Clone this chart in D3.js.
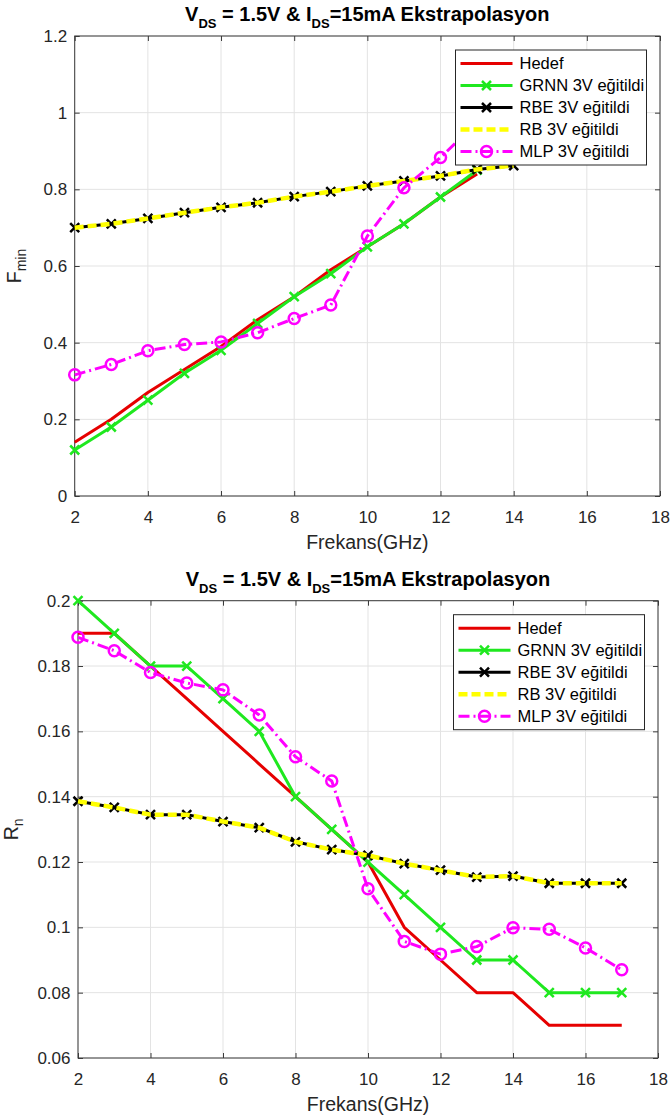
<!DOCTYPE html>
<html><head><meta charset="utf-8">
<script src="https://cdn.jsdelivr.net/npm/d3@7"></script>
<style>
body{margin:0;background:#fff}
svg{display:block}
text{font-family:Arial,"Liberation Sans",Helvetica,sans-serif}
</style>
</head><body>
<svg id="c" width="671" height="1119"></svg>
<script>
// ---------- DATA ----------
const freq = [2,3,4,5,6,7,8,9,10,11,12,13,14,15,16,17];
const xTicks = [2,4,6,8,10,12,14,16,18];
const xTickLabels = ["2","4","6","8","10","12","14","16","18"];
const seriesNames = ["Hedef","GRNN 3V eğitildi","RBE 3V eğitildi","RB 3V eğitildi","MLP 3V eğitildi"];

// Top panel: Fmin (points hidden behind the legend are not shown)
const fminHedef = [0.14,0.20,0.27,0.33,0.39,0.46,0.52,0.59,0.65,0.71,0.78,0.84];
const fminGRNN  = [0.12,0.18,0.25,0.32,0.38,0.45,0.52,0.58,0.65,0.71,0.78,0.85];
const fminRBE   = [0.700,0.710,0.724,0.739,0.753,0.765,0.781,0.794,0.809,0.822,0.835,0.852,0.862];
const fminRB    = [0.700,0.710,0.724,0.739,0.753,0.765,0.781,0.794,0.809,0.822,0.835,0.852,0.862];
const fminMLP   = [0.316,0.343,0.379,0.395,0.402,0.426,0.463,0.498,0.678,0.804,0.883,0.975];
const fminTicks = [0,0.2,0.4,0.6,0.8,1,1.2];
const fminTickLabels = ["0","0.2","0.4","0.6","0.8","1","1.2"];

// Bottom panel: Rn
const rnHedef = [0.19,0.19,0.18,0.17,0.16,0.15,0.14,0.13,0.12,0.10,0.09,0.08,0.08,0.07,0.07,0.07];
const rnGRNN  = [0.20,0.19,0.18,0.18,0.17,0.16,0.14,0.13,0.12,0.11,0.10,0.09,0.09,0.08,0.08,0.08];
const rnRBE   = [0.1386,0.1367,0.1345,0.1345,0.1324,0.1305,0.1262,0.1238,0.1220,0.1195,0.1175,0.1154,0.1157,0.1135,0.1135,0.1135];
const rnRB    = [0.1386,0.1367,0.1345,0.1345,0.1324,0.1305,0.1262,0.1238,0.1220,0.1195,0.1175,0.1154,0.1157,0.1135,0.1135,0.1135];
const rnMLP   = [0.1888,0.1847,0.1780,0.1748,0.1727,0.1650,0.1522,0.1448,0.1118,0.0957,0.0918,0.0941,0.0999,0.0994,0.0937,0.0870];
const rnTicks = [0.06,0.08,0.1,0.12,0.14,0.16,0.18,0.2];
const rnTickLabels = ["0.06","0.08","0.1","0.12","0.14","0.16","0.18","0.2"];

// ---------- STYLES ----------
const styles = [
  {color:"#e60000", width:3, dash:null, marker:null},
  {color:"#1fe81f", width:3, dash:null, marker:"x"},
  {color:"#000000", width:3, dash:null, marker:"x"},
  {color:"#ffff00", width:4.5, dash:"9,4", marker:null},
  {color:"#ff00ff", width:3, dash:"11,4,2,4", marker:"o"}
];

const svg = d3.select("#c");
const tickFont = 17, labelFont = 19.5, titleFont = 20, legendFont = 16.5;

function panel(cfg){
  const g = svg.append("g");
  const x = d3.scaleLinear().domain([2,18]).range([cfg.left,cfg.right]);
  const y = d3.scaleLinear().domain(cfg.ydom).range([cfg.bottom,cfg.top]);

  // grid
  g.append("g").selectAll("line.gx").data(xTicks).join("line")
    .attr("x1",d=>x(d)).attr("x2",d=>x(d)).attr("y1",cfg.top).attr("y2",cfg.bottom)
    .attr("stroke","#e3e3e3").attr("stroke-width",1);
  g.append("g").selectAll("line.gy").data(cfg.yTicks).join("line")
    .attr("x1",cfg.left).attr("x2",cfg.right).attr("y1",d=>y(d)).attr("y2",d=>y(d))
    .attr("stroke","#e3e3e3").attr("stroke-width",1);

  // axes
  const ax = [
    g.append("g").attr("transform",`translate(0,${cfg.bottom})`)
      .call(d3.axisBottom(x).tickValues(xTicks).tickFormat((d,i)=>xTickLabels[i]).tickSizeInner(-5).tickSizeOuter(0).tickPadding(14.5)),
    g.append("g").attr("transform",`translate(0,${cfg.top})`)
      .call(d3.axisTop(x).tickValues(xTicks).tickFormat("").tickSizeInner(-5).tickSizeOuter(0)),
    g.append("g").attr("transform",`translate(${cfg.left},0)`)
      .call(d3.axisLeft(y).tickValues(cfg.yTicks).tickFormat((d,i)=>cfg.yTickLabels[i]).tickSizeInner(-5).tickSizeOuter(0).tickPadding(7.5)),
    g.append("g").attr("transform",`translate(${cfg.right},0)`)
      .call(d3.axisRight(y).tickValues(cfg.yTicks).tickFormat("").tickSizeInner(-5).tickSizeOuter(0))
  ];
  ax.forEach(a=>{
    a.select(".domain").remove();
    a.selectAll(".tick line").attr("stroke","#3a3a3a");
    a.selectAll("text").attr("font-size",tickFont).attr("fill","#262626").attr("font-family","Arial, 'Liberation Sans', sans-serif");
  });
  g.append("rect").attr("x",cfg.left).attr("y",cfg.top)
    .attr("width",cfg.right-cfg.left).attr("height",cfg.bottom-cfg.top)
    .attr("fill","none").attr("stroke","#3a3a3a").attr("stroke-width",1);

  // series
  cfg.series.forEach((vals,si)=>{
    const st = styles[si];
    const pts = vals.map((v,i)=>[freq[i],v]);
    const line = d3.line().x(d=>x(d[0])).y(d=>y(d[1]));
    g.append("path").attr("d",line(pts)).attr("fill","none")
      .attr("stroke",st.color).attr("stroke-width",st.width)
      .attr("stroke-dasharray",st.dash).attr("stroke-linejoin","round");
    drawMarkers(g, pts.map(p=>[x(p[0]),y(p[1])]), st);
  });

  // title
  const t = g.append("text").attr("x",(cfg.left+cfg.right)/2).attr("y",cfg.titleY)
    .attr("text-anchor","middle").attr("font-weight","bold").attr("font-size",titleFont).attr("fill","#000");
  t.append("tspan").text("V");
  t.append("tspan").attr("font-size",13).attr("dy",7).text("DS");
  t.append("tspan").attr("dy",-7).text(" = 1.5V & I");
  t.append("tspan").attr("font-size",13).attr("dy",7).text("DS");
  t.append("tspan").attr("dy",-7).text("=15mA Ekstrapolasyon");

  // x label
  g.append("text").attr("x",(cfg.left+cfg.right)/2).attr("y",cfg.xlabelY)
    .attr("text-anchor","middle").attr("font-size",labelFont).attr("fill","#262626").text("Frekans(GHz)");

  // y label
  const yl = g.append("text")
    .attr("transform",`translate(${cfg.ylabelX},${(cfg.top+cfg.bottom)/2}) rotate(-90)`)
    .attr("text-anchor","middle").attr("font-size",labelFont).attr("fill","#262626");
  yl.append("tspan").text(cfg.ylabelMain);
  yl.append("tspan").attr("font-size",14).attr("dy",5).text(cfg.ylabelSub);

  // legend
  const lx = cfg.right - 13.5 - 191, ly = cfg.top + 14;
  const lg = g.append("g");
  lg.append("rect").attr("x",lx).attr("y",ly).attr("width",191).attr("height",115)
    .attr("fill","#fff").attr("stroke","#262626").attr("stroke-width",1);
  seriesNames.forEach((name,i)=>{
    const st = styles[i];
    const cy = ly + 13.5 + i*22;
    lg.append("line").attr("x1",lx+5).attr("x2",lx+57).attr("y1",cy).attr("y2",cy)
      .attr("stroke",st.color).attr("stroke-width",st.width).attr("stroke-dasharray",st.dash);
    drawMarkers(lg, [[lx+31,cy]], st);
    lg.append("text").attr("x",lx+64).attr("y",cy).attr("dy","0.35em")
      .attr("font-size",legendFont).attr("fill","#000").text(name);
  });
}

function drawMarkers(g, pts, st){
  if(st.marker==="x"){
    const s=4.5;
    pts.forEach(([px,py])=>{
      g.append("path").attr("d",`M${px-s},${py-s}L${px+s},${py+s}M${px-s},${py+s}L${px+s},${py-s}`)
        .attr("stroke",st.color).attr("stroke-width",2.5).attr("fill","none");
    });
  } else if(st.marker==="o"){
    g.selectAll(null).data(pts).enter().append("circle")
      .attr("cx",d=>d[0]).attr("cy",d=>d[1]).attr("r",5.5)
      .attr("fill","none").attr("stroke",st.color).attr("stroke-width",2.5);
  }
}

panel({left:74.7,right:660,top:36,bottom:496,ydom:[0,1.2],yTicks:fminTicks,yTickLabels:fminTickLabels,
  series:[fminHedef,fminGRNN,fminRBE,fminRB,fminMLP],titleY:21,xlabelY:549,ylabelX:21,ylabelMain:"F",ylabelSub:"min"});
panel({left:78,right:658,top:600.7,bottom:1058,ydom:[0.06,0.2],yTicks:rnTicks,yTickLabels:rnTickLabels,
  series:[rnHedef,rnGRNN,rnRBE,rnRB,rnMLP],titleY:586,xlabelY:1111,ylabelX:18,ylabelMain:"R",ylabelSub:"n"});
</script>
</body></html>
